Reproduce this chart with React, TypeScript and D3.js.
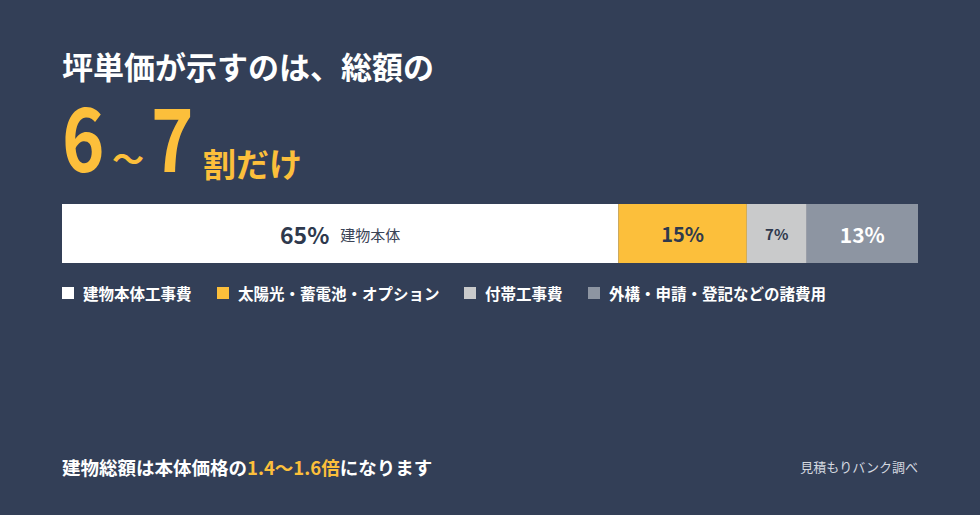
import React from "react";
import * as d3 from "d3";

const categories = ["建物本体工事費", "太陽光・蓄電池・オプション", "付帯工事費", "外構・申請・登記などの諸費用"];
const shares = [65, 15, 7, 13];
const barLabels = ["65%", "15%", "7%", "13%"];
const subLabels = ["建物本体", "", "", ""];
const colors = ["#FFFFFF", "#FCBF3B", "#C9CACB", "#8D95A2"];
const labelColors = ["#2E394D", "#2E394D", "#2E394D", "#FFFFFF"];
const labelSizes = [23, 20, 15, 21];

const W = 980;
const H = 515;
const BG = "#333F57";
const YELLOW = "#FCBF3B";
const FONT = "'Noto Sans CJK JP', 'Noto Sans', sans-serif";

export default function App() {
  const x0 = 62, x1 = 918, barY = 204, barH = 59;
  const x = d3.scaleLinear().domain([0, d3.sum(shares)]).range([x0, x1]);
  const cum = d3.cumsum(shares);
  const starts = shares.map((s, i) => cum[i] - s);

  const legendX = [62, 217, 464, 588];

  return (
    <div style={{ position: "fixed", left: 0, top: 0, width: W, height: H }}>
      <svg width={W} height={H} style={{ display: "block" }} fontFamily={FONT}>
        <rect x={0} y={0} width={W} height={H} fill={BG} />
        <text x={62} y={79} fill="#FFFFFF" fontSize={31} fontWeight={700}>
          坪単価が示すのは、総額の
        </text>
        <g fill={YELLOW} fontWeight={700}>
          <text x={62} y={172} fontSize={88} transform="translate(62,0) scale(0.82,1) translate(-62,0)">6</text>
          <text x={112} y={171} fontSize={32}>〜</text>
          <text x={151} y={172} fontSize={88} transform="translate(151,0) scale(0.82,1) translate(-151,0)">7</text>
          <text x={203} y={177} fontSize={33}>割だけ</text>
        </g>

        {shares.map((s, i) => (
          <rect key={i} x={x(starts[i])} y={barY} width={x(cum[i]) - x(starts[i])} height={barH} fill={colors[i]} />
        ))}
        {shares.map((s, i) => {
          const cx = (x(starts[i]) + x(cum[i])) / 2;
          if (subLabels[i]) {
            return (
              <text key={i} x={cx} y={barY + barH / 2} textAnchor="middle" dominantBaseline="central">
                <tspan fill={labelColors[i]} fontSize={labelSizes[i]} fontWeight={700}>{barLabels[i]}</tspan>
                <tspan fill="#3A4456" fontSize={15} fontWeight={400} dx={11}>{subLabels[i]}</tspan>
              </text>
            );
          }
          return (
            <text key={i} x={cx} y={barY + barH / 2} textAnchor="middle" dominantBaseline="central"
              fill={labelColors[i]} fontSize={labelSizes[i]} fontWeight={700}>
              {barLabels[i]}
            </text>
          );
        })}

        {categories.map((c, i) => (
          <g key={i}>
            <rect x={legendX[i]} y={287} width={12} height={12} fill={colors[i]} />
            <text x={legendX[i] + 21} y={293} dominantBaseline="central" fill="#FFFFFF" fontSize={15.5} fontWeight={700}>
              {c}
            </text>
          </g>
        ))}

        <text x={62} y={475} fill="#FFFFFF" fontSize={18.5} fontWeight={700}>
          建物総額は本体価格の<tspan fill={YELLOW}>1.4〜1.6倍</tspan>になります
        </text>
        <text x={918} y={472} textAnchor="end" fill="#D5D9E0" fontSize={13}>
          見積もりバンク調べ
        </text>
      </svg>
    </div>
  );
}
